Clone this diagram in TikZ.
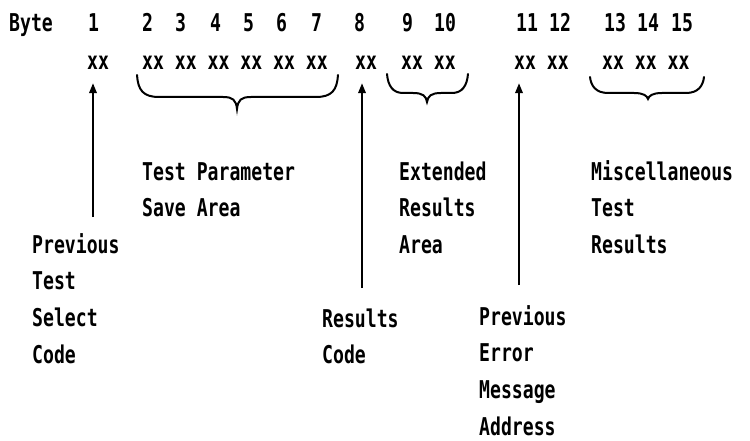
\documentclass[tikz,border=0pt]{standalone}
\usepackage{fontspec}
\setmainfont{DejaVu Sans Mono}[FakeStretch=0.74]
\usetikzlibrary{arrows.meta}
\newcommand\stk[1]{\vtop{\halign{##\hfil\cr#1\crcr}}}
\newcommand\brc[7]{% xl, xm, xr, y0, yf, yt, corner width
  \draw[bracestyle] (#1,#4) .. controls (#1+1,#5-7) and (#1+6,#5) .. (#1+#7,#5)
    -- (#2-14,#5) .. controls (#2-4,#5) and (#2-1,#5+3) .. (#2,#6)
    .. controls (#2+1,#5+3) and (#2+4,#5) .. (#2+14,#5)
    -- (#3-#7,#5) .. controls (#3-6,#5) and (#3-1,#5-7) .. (#3,#4);}
\begin{document}
\begin{tikzpicture}[x=1pt,y=-1pt,
  txt/.style={inner sep=0pt,anchor=base west,font=\fontsize{24.5}{36.7}\selectfont\bfseries},
  lbl/.style={txt},
  arr/.style={line width=2pt,-{Triangle[length=10pt,width=7.5pt]},shorten >=13pt},
  bracestyle/.style={line width=2pt,line cap=round}]
\fill[white] (0,0) rectangle (750,441);
\useasboundingbox (0,0) rectangle (750,441);
% byte numbers
\node[txt] (byte) at (9,32) {Byte};
\node[txt] (n1) at (88,32) {1};
\node[txt] (n2) at (142,32) {2};
\node[txt] (n3) at (175,32) {3};
\node[txt] (n4) at (210,32) {4};
\node[txt] (n5) at (243,32) {5};
\node[txt] (n6) at (276,32) {6};
\node[txt] (n7) at (311,32) {7};
\node[txt] (n8) at (354,32) {8};
\node[txt] (n9) at (402,32) {9};
\node[txt] (n10) at (434,32) {10};
\node[txt] (n11) at (516,32) {11};
\node[txt] (n12) at (549,32) {12};
\node[txt] (n13) at (604,32) {13};
\node[txt] (n14) at (637,32) {14};
\node[txt] (n15) at (671,32) {15};
% byte values
\node[txt] (xx1) at (87,70) {xx};
\node[txt] (xx2) at (142,70) {xx xx xx xx xx xx};
\node[txt] (xx8) at (355,70) {xx};
\node[txt] (xx9) at (401,70) {xx xx};
\node[txt] (xx11) at (514,70) {xx xx};
\node[txt] (xx13) at (602,70) {xx xx xx};
% braces
\brc{137}{237}{338}{75}{97}{109}{22}
\brc{387}{427}{468}{74}{93}{102}{16}
\brc{590}{648}{704}{77}{93}{99}{18}
% labels
\node[lbl] (tp) at (142,180) {\stk{Test Parameter\cr Save Area}};
\node[lbl] (ext) at (399,180) {\stk{Extended\cr Results\cr Area}};
\node[lbl] (misc) at (591,180) {\stk{Miscellaneous\cr Test\cr Results}};
\node[lbl] (ptsc) at (32,253) {\stk{Previous\cr Test\cr Select\cr Code}};
\node[lbl] (rc) at (322,327) {\stk{Results\cr Code}};
\node[lbl] (pema) at (479,325) {\stk{Previous\cr Error\cr Message\cr Address}};
% arrows
\coordinate (a1) at (93,217);
\coordinate (a8) at (362,288);
\coordinate (a11) at (519,285);
\draw[arr] (a1) -- (a1 |- xx1.south);
\draw[arr] (a8) -- (a8 |- xx8.south);
\draw[arr] (a11) -- (a11 |- xx11.south);
\end{tikzpicture}
\end{document}
